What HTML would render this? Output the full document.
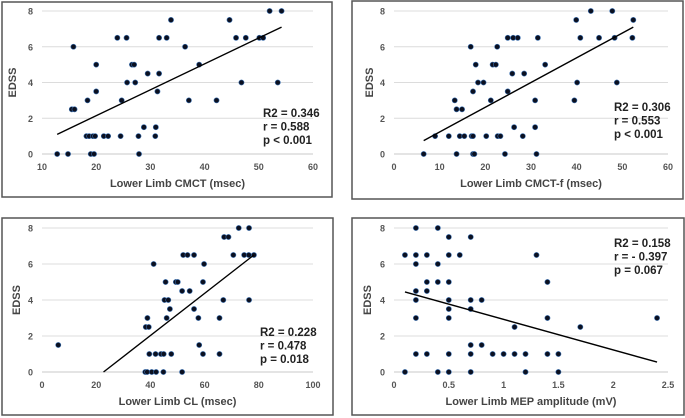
<!DOCTYPE html>
<html><head><meta charset="utf-8"><style>
html,body{margin:0;padding:0;background:#fff;}
svg{display:block;font-family:"Liberation Sans",Arial,sans-serif;}
</style></head><body>
<svg id="chart" width="685" height="418" viewBox="0 0 685 418" xmlns="http://www.w3.org/2000/svg"></svg>
<script>
// Panel A: Lower Limb CMCT
const cmctX=[12.8,14.8,15.5,16,15.8,18.2,18.7,18.4,19,19.6,19.4,19.8,20,20,21.4,22.2,23.9,24.5,24.7,25.6,25.7,26.6,27,27.2,27.8,27.9,28.8,29.5,31,30.9,31.3,31.6,31.6,33,33.8,36.4,37.1,39,42.2,44.6,45.8,46.8,47.6,50.1,50.8,52,53.5,54.2];
const cmctY=[0,0,2.5,2.5,6,1,1,3,0,0,1,1,5,3.5,1,1,6.5,1,3,6.5,4,5,5,4,1,0,1.5,4.5,1.5,1,3.5,6.5,4.5,6.5,7.5,6,3,5,3,7.5,6.5,4,6.5,6.5,6.5,8,4,8];
const cmctTrend=[[12.8,1.1],[54.2,7.1]];
const cmctXTicks=[10,20,30,40,50,60];
const cmctStats=["R2 = 0.346","r = 0.588","p < 0.001"];
// Panel B: Lower Limb CMCT-f
const cmctfX=[6.5,9,12,13.3,13.7,13.7,14.4,14.9,15.4,16.8,17,17.3,17.6,17.3,17.3,17.9,18.4,19.6,20.2,21.2,21.6,22.3,22.6,22.7,23.3,24.3,24.9,24.9,25.9,26.1,26.3,27.1,28.2,28.5,30.9,30.9,31.2,31.5,33.1,39.5,39.9,40.1,40.8,43.1,44.9,47.8,48.3,48.8,52.2,52.4];
const cmctfY=[0,1,1,3,2.5,0,1,2.5,1,6,1,0,0,1,3.5,5,4,4,1,3,5,5,6,1,1,0,3.5,6.5,4.5,6.5,1.5,6.5,1,4.5,1.5,3,0,6.5,5,3,7.5,4,6.5,8,6.5,8,6.5,4,6.5,7.5];
const cmctfTrend=[[6.5,0.75],[52.4,7.1]];
const cmctfXTicks=[0,10,20,30,40,50,60];
const cmctfStats=["R2 = 0.306","r = 0.553","p < 0.001"];
// Panel C: Lower Limb CL
const clX=[6,38.1,38.8,39.6,40.5,41.2,41.9,42.1,38.3,39.4,38.9,43.9,44.8,44.9,45.2,45.6,46,46.6,47.2,47.7,49.4,50.1,51.7,51.7,52.1,53.7,54.5,56.1,56.1,57.7,58,59.4,59.4,59.8,65.5,65.5,66.9,67.2,68.8,70.6,72.6,74.6,76.3,76.4,76.4,78.2];
const clY=[1.5,0,0,1,0,6,1,0,2.5,2.5,3,1,0,1,4,5,3,4,3.5,1,5,5,4.5,0,6.5,6.5,4.5,6.5,3.5,3,1.5,5,1,6,3,1,4,7.5,7.5,6.5,8,6.5,6.5,8,4,6.5];
const clTrend=[[22.7,0],[78.2,6.5]];
const clXTicks=[0,20,40,60,80,100];
const clStats=["R2 = 0.228","r = 0.478","p = 0.018"];
// Panel D: Lower Limb MEP amplitude
const mepX=[0.1,0.1,0.2,0.2,0.2,0.2,0.2,0.2,0.2,0.3,0.3,0.3,0.3,0.4,0.4,0.4,0.4,0.5,0.5,0.5,0.5,0.5,0.5,0.5,0.5,0.6,0.7,0.7,0.7,0.7,0.7,0.7,0.8,0.8,0.9,1.0,1.1,1.1,1.2,1.2,1.3,1.4,1.4,1.4,1.5,1.5,1.7,2.4];
const mepY=[6.5,0,8,6.5,6,4.5,4,3,1,6.5,5,4.5,1,8,6,5,0,7.5,6.5,5,4,3.5,3,1,0,6.5,7.5,4,3.5,1.5,1,0,4,1.5,1,1,2.5,1,1,0,6.5,5,3,1,1,0,2.5,3];
const mepTrend=[[0.1,4.45],[2.4,0.55]];
const mepXTicks=["0","0.5","1","1.5","2","2.5"];
const mepStats=["R2 = 0.158","r = - 0.397","p = 0.067"];
const yTicks=[0,2,4,6,8];

const svg=document.getElementById('chart');
const NS='http://www.w3.org/2000/svg';
function mk(tag,attrs,parent){const e=document.createElementNS(NS,tag);for(const k in attrs)e.setAttribute(k,attrs[k]);parent.appendChild(e);return e;}

function panel(id,frame,plot,xmin,xmax,xs,ys,trend,xticks,stats,title,statPos,edssX){
  const g=mk('g',{},svg);
  
  
  const fr=mk('rect',{x:frame[0],y:frame[1],width:frame[2]-frame[0],height:frame[3]-frame[1],fill:'#fff',stroke:'#555','stroke-width':1.5},g);
  
  
  const sx=v=>plot[0]+(v-xmin)/(xmax-xmin)*(plot[2]-plot[0]);
  const sy=v=>plot[3]-v/8*(plot[3]-plot[1]);
  yTicks.forEach(t=>{
    const l=mk('line',{x1:plot[0],x2:plot[2],y1:sy(t),y2:sy(t),stroke:t===0?'#c8c8c8':'#dcdcdc','stroke-width':1},g);
    
    
    const tx=mk('text',{x:plot[0]-9,y:sy(t)+3.5,'text-anchor':'end','font-size':9,'font-weight':'bold',fill:'#555'},g);
    tx.textContent=t;
    
    
  });
  xticks.forEach(t=>{
    const tx=mk('text',{x:sx(parseFloat(t)),y:plot[3]+16,'text-anchor':'middle','font-size':9,'font-weight':'bold',fill:'#555'},g);
    tx.textContent=t;
    
    
  });
  const xt=mk('text',{x:(plot[0]+plot[2])/2,y:plot[3]+33,'text-anchor':'middle','font-size':11,'font-weight':'bold',fill:'#444'},g);
  xt.textContent=title;
  
  
  const cy=(plot[1]+plot[3])/2;
  const yt=mk('text',{x:edssX,y:cy,'text-anchor':'middle','font-size':11,'font-weight':'bold',fill:'#444',transform:`rotate(-90 ${edssX} ${cy})`},g);
  yt.textContent='EDSS';
  
  
  for(let i=0;i<xs.length;i++){
    const c=mk('circle',{cx:sx(xs[i]),cy:sy(ys[i]),r:2.6,fill:'#0b1020',stroke:'#3a6fb0','stroke-width':0.6},g);
    
    
  }
  const tl=mk('line',{x1:sx(trend[0][0]),y1:sy(trend[0][1]),x2:sx(trend[1][0]),y2:sy(trend[1][1]),stroke:'#000','stroke-width':1.4},g);
  
  
  stats.forEach((s,i)=>{
    const st=mk('text',{x:statPos[0],y:statPos[1]+i*13.5,'font-size':11.5,'font-weight':'bold',fill:'#222'},g);
    st.textContent=s;
    
    
  });
}
panel('cmct',[2,2,332,197],[42,11,313,154],10,60,cmctX,cmctY,cmctTrend,cmctXTicks,cmctStats,'Lower Limb CMCT (msec)',[263,117],16);
panel('cmct-f',[352,1,683,199],[394,11,668,154],0,60,cmctfX,cmctfY,cmctfTrend,cmctfXTicks,cmctfStats,'Lower Limb CMCT-f (msec)',[614,111],373);
panel('cl',[2,218,333,415],[42,228,313,372],0,100,clX,clY,clTrend,clXTicks,clStats,'Lower Limb CL (msec)',[260,336],20);
panel('mep',[352,218,684,415],[394,228,668,372],0,2.5,mepX,mepY,mepTrend,mepXTicks,mepStats,'Lower Limb MEP amplitude (mV)',[614,247],371);
</script>
</body></html>
